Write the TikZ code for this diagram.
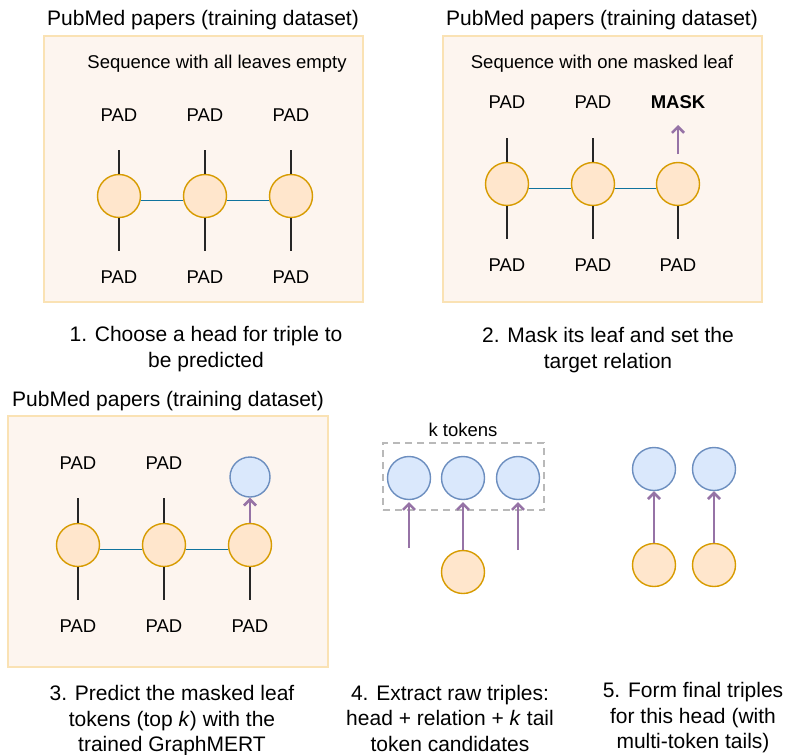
\documentclass[tikz,border=0pt]{standalone}
\usepackage{fontspec}
\setmainfont{Liberation Sans}
\usepackage{xcolor}
\usetikzlibrary{positioning}
\usetikzlibrary{arrows.meta}

\definecolor{panelfill}{HTML}{FDF5EF}
\definecolor{paneldraw}{HTML}{FAE2B4}
\definecolor{headfill}{HTML}{FFE6CC}
\definecolor{headdraw}{HTML}{D79B00}
\definecolor{tailfill}{HTML}{DAE8FC}
\definecolor{taildraw}{HTML}{6C8EBF}
\definecolor{predcol}{HTML}{9673A6}
\definecolor{seqcol}{HTML}{10739E}

\begin{document}
\begin{tikzpicture}[x=1pt, y=-1pt, node distance=86pt, on grid,
      every node/.style={font=\fontsize{18.5}{22}\selectfont},
      panel/.style={draw=paneldraw, fill=panelfill, line width=1.3pt, minimum width=319pt, inner sep=0pt},
      head/.style={circle, draw=headdraw, fill=headfill, line width=1.4pt, minimum size=43pt, inner sep=0pt},
      tail/.style={circle, draw=taildraw, fill=tailfill, line width=1.4pt, minimum size=43pt, inner sep=0pt},
      kbox/.style={draw=gray!55, line width=1.3pt, dash pattern=on 7pt off 5pt, minimum width=161pt, minimum height=67pt, inner sep=0pt},
      title/.style={font=\fontsize{21}{25}\selectfont},
      steptext/.style={font=\fontsize{21}{25.5}\selectfont, align=center},
      seq/.style={color=seqcol, line width=1.4pt},
      stub/.style={color=black!85, line width=1.3pt},
      pred/.style={color=predcol, line width=2.6pt, -{Straight Barb[length=6pt,width=12pt]}}]

      \useasboundingbox (0,0) rectangle (785,755);

      % step 1
      \node[panel, minimum height=266pt] (box1) at (203.5,169) {};
      \node[title] (t1) at (203,20) {PubMed papers (training dataset)};
      \node[] (sub1) at (217,64) {Sequence with all leaves empty};
      \node[head] (h10) at (119,196) {};
      \node[head] (h11) [right=of h10] {};
      \node[head] (h12) [right=of h11] {};
      \node[] (pt10) [above=81pt of h10] {PAD};
      \node[] (pt11) [above=81pt of h11] {PAD};
      \node[] (pt12) [above=81pt of h12] {PAD};
      \node[] (pb10) [below=81pt of h10] {PAD};
      \node[] (pb11) [below=81pt of h11] {PAD};
      \node[] (pb12) [below=81pt of h12] {PAD};
      \coordinate[above=46pt of h10] (st10);
      \coordinate[above=46pt of h11] (st11);
      \coordinate[above=46pt of h12] (st12);
      \coordinate[below=55pt of h10] (sb10);
      \coordinate[below=55pt of h11] (sb11);
      \coordinate[below=55pt of h12] (sb12);
      \node[steptext] (c1) at (206,349) {1. Choose a head for triple to\\be predicted};

      % step 2
      \node[panel, minimum height=266pt] (box2) at (602.5,169) {};
      \node[title] (t2) at (602,20) {PubMed papers (training dataset)};
      \node[] (sub2) at (602,64) {Sequence with one masked leaf};
      \node[head] (h20) at (507,184) {};
      \node[head] (h21) [right=of h20] {};
      \node[head] (h22) [right=85pt of h21] {};
      \node[] (pt20) [above=82pt of h20] {PAD};
      \node[] (pt21) [above=82pt of h21] {PAD};
      \node[] (pt22) [above=82pt of h22] {\textbf{MASK}};
      \node[] (pb20) [below=81pt of h20] {PAD};
      \node[] (pb21) [below=81pt of h21] {PAD};
      \node[] (pb22) [below=81pt of h22] {PAD};
      \coordinate[above=46pt of h20] (st20);
      \coordinate[above=46pt of h21] (st21);
      \coordinate[below=55pt of h20] (sb20);
      \coordinate[below=55pt of h21] (sb21);
      \coordinate[below=55pt of h22] (sb22);
      \coordinate[above=30pt of h22] (mlo);
      \coordinate[above=59pt of h22] (mhi);
      \node[steptext] (c2) at (608,350) {2. Mask its leaf and set the\\target relation};

      % step 3
      \node[panel, minimum width=320pt, minimum height=251pt] (box3) at (168,541.5) {};
      \node[title] (t3) at (168,401) {PubMed papers (training dataset)};
      \node[head] (h30) at (78,545) {};
      \node[head] (h31) [right=of h30] {};
      \node[head] (h32) [right=of h31] {};
      \node[tail, minimum size=40pt] (k30) [above=68pt of h32] {};
      \node[] (pt30) [above=82pt of h30] {PAD};
      \node[] (pt31) [above=82pt of h31] {PAD};
      \node[] (pb30) [below=81pt of h30] {PAD};
      \node[] (pb31) [below=81pt of h31] {PAD};
      \node[] (pb32) [below=81pt of h32] {PAD};
      \coordinate[above=47pt of h30] (st30);
      \coordinate[above=47pt of h31] (st31);
      \coordinate[below=55pt of h30] (sb30);
      \coordinate[below=55pt of h31] (sb31);
      \coordinate[below=55pt of h32] (sb32);
      \node[steptext] (c3) at (172,721) {3. Predict the masked leaf\\tokens (top \textit{k}) with the\\trained GraphMERT};

      % step 4
      \node[kbox] (kb) at (463.5,476.5) {};
      \node[] (kt) at (463,430) {k tokens};
      \node[tail] (k40) at (409,478) {};
      \node[tail] (k41) [right=54pt of k40] {};
      \node[tail] (k42) [right=55pt of k41] {};
      \node[head] (h40) [below=94pt of k41] {};
      \coordinate[below=70pt of k40] (lo40);
      \coordinate[below=24pt of k40] (hi40);
      \coordinate[below=24pt of k41] (hi41);
      \coordinate[below=72pt of k42] (lo42);
      \coordinate[below=24pt of k42] (hi42);
      \node[steptext] (c4) at (450,718) {4. Extract raw triples:\\head + relation + \textit{k} tail\\token candidates};

      % step 5
      \node[tail] (k50) at (654,469) {};
      \node[tail] (k51) [right=60pt of k50] {};
      \node[head] (h50) [below=96pt of k50] {};
      \node[head] (h51) [below=96pt of k51] {};
      \node[steptext] (c5) at (693,718) {5. Form final triples\\for this head (with\\multi-token tails)};

      \path[seq]
        (h10.-11) edge (h11.191)
        (h11.-11) edge (h12.191)
        (h20.-11) edge (h21.191)
        (h21.-11) edge (h22.191)
        (h30.-11) edge (h31.191)
        (h31.-11) edge (h32.191)
        ;

      \path[stub]
        (h10) edge (st10) (h10) edge (sb10)
        (h11) edge (st11) (h11) edge (sb11)
        (h12) edge (st12) (h12) edge (sb12)
        (h20) edge (st20) (h20) edge (sb20)
        (h21) edge (st21) (h21) edge (sb21)
        (h22) edge (sb22)
        (h30) edge (st30) (h30) edge (sb30)
        (h31) edge (st31) (h31) edge (sb31)
        (h32) edge (sb32)
        ;

      \path[pred]
        (mlo) edge (mhi)
        (h32) edge (k30)
        (lo40) edge (hi40)
        (h40) edge (hi41)
        (lo42) edge (hi42)
        (h50) edge (k50)
        (h51) edge (k51)
        ;

    \end{tikzpicture}
\end{document}
